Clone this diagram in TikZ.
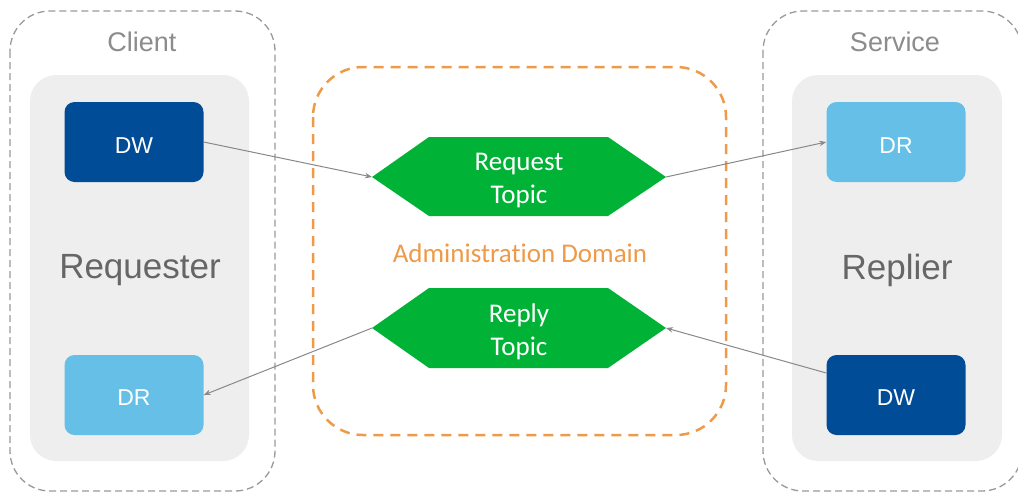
\documentclass[tikz,border=0pt]{standalone}
\usepackage{fontspec}
\setmainfont{Liberation Sans}
\newfontfamily\calfont[Ligatures=NoCommon]{Carlito}
\usetikzlibrary{arrows.meta}
\definecolor{dwblue}{HTML}{004C97}
\definecolor{drblue}{HTML}{66BFE6}
\definecolor{topicgreen}{HTML}{00B336}
\definecolor{panelgrey}{HTML}{EEEEEE}
\definecolor{dashgrey}{HTML}{999999}
\definecolor{domorange}{HTML}{EE9A48}
\definecolor{labelgrey}{HTML}{8C8C8C}
\definecolor{rolegrey}{HTML}{666666}
\definecolor{arrowgrey}{HTML}{888888}
\begin{document}
\begin{tikzpicture}[x=1pt,y=-1pt,
  appbox/.style={draw=dashgrey, line width=1.3pt, dash pattern=on 7pt off 4pt, rounded corners=40pt},
  panel/.style={fill=panelgrey, rounded corners=26pt},
  domainbox/.style={draw=domorange, line width=2.5pt, dash pattern=on 10pt off 7pt, rounded corners=50pt},
  epbox/.style={rounded corners=10pt, minimum width=139pt, minimum height=80pt, inner sep=0pt},
  writer/.style={epbox, fill=dwblue},
  reader/.style={epbox, fill=drblue},
  eplabel/.style={text=white, font=\fontsize{23}{26}\selectfont, anchor=base, inner sep=0pt},
  applabel/.style={text=labelgrey, font=\fontsize{27}{30}\selectfont, anchor=base, inner sep=0pt},
  rolelabel/.style={text=rolegrey, font=\fontsize{35}{40}\selectfont, anchor=base, inner sep=0pt},
  topic/.style={fill=topicgreen},
  topiclabel/.style={text=white, font=\calfont\fontsize{27}{33}\selectfont, align=center, inner sep=0pt},
  conn/.style={draw=arrowgrey, line width=1pt, -{Stealth[length=7pt,width=5.5pt]}}
]
\useasboundingbox (0,0) rectangle (1018,493);
\clip (0,0) rectangle (1018,493);

% application boxes
\draw[appbox] (10,11) rectangle (275,491);
\draw[appbox] (763,11) rectangle (1022,491);
\node[applabel] (client) at (142,51) {Client};
\node[applabel] (service) at (895,51) {Service};

% grey panels
\fill[panel] (30,75) rectangle (249,461);
\fill[panel] (792,75) rectangle (1002,461);
\node[rolelabel] (requester) at (140,278) {Requester};
\node[rolelabel] (replier) at (897,279) {Replier};

% administration domain
\draw[domainbox] (313,67) rectangle (726,435);
\node[text=domorange, font=\calfont\fontsize{27}{30}\selectfont, anchor=base, inner sep=0pt] (admin) at (520,262) {Administration Domain};

% endpoints
\node[writer] (dwL) at (134,142) {};
\node[eplabel] (dwLt) at (134,153) {DW};
\node[reader] (drL) at (134,395) {};
\node[eplabel] (drLt) at (134,405) {DR};
\node[reader] (drR) at (896,142) {};
\node[eplabel] (drRt) at (896,153) {DR};
\node[writer] (dwR) at (896,395) {};
\node[eplabel] (dwRt) at (896,405) {DW};

% topics
\fill[topic] (372,177) -- (429,137) -- (608,137) -- (666,177) -- (608,216) -- (429,216) -- cycle;
\coordinate (reqW) at (372,177);
\coordinate (reqE) at (666,177);
\node[topiclabel] (req) at (519,180.5) {Request\\Topic};

\fill[topic] (372,328) -- (429,288) -- (608,288) -- (666,328) -- (608,368) -- (429,368) -- cycle;
\coordinate (repW) at (372,328);
\coordinate (repE) at (666,328);
\node[topiclabel] (rep) at (519,331.5) {Reply\\Topic};

% connectors
\draw[conn] (dwL.east) -- (reqW);
\draw[conn] (reqE) -- (drR.west);
\draw[conn] ([yshift=22pt]dwR.west) -- (repE);
\draw[conn] (repW) -- (drL.east);
\end{tikzpicture}
\end{document}
